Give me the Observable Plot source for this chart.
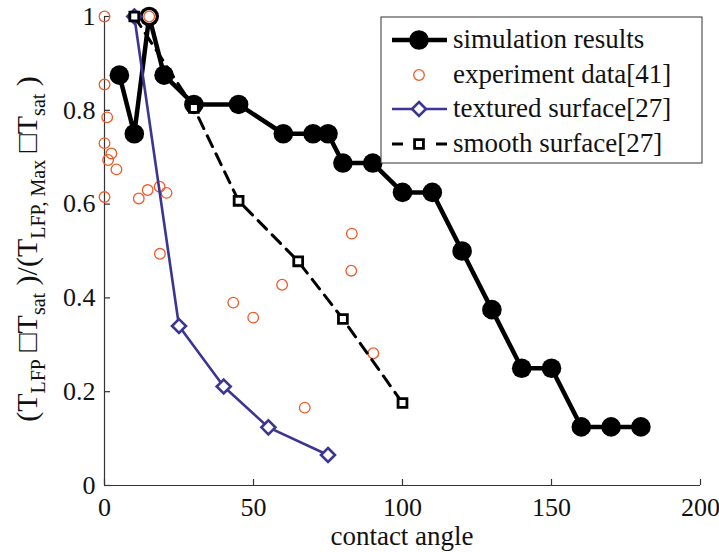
<!DOCTYPE html>
<html>
<head>
<meta charset="utf-8">
<script src="https://cdn.jsdelivr.net/npm/d3@7"></script>
<script src="https://cdn.jsdelivr.net/npm/@observablehq/plot@0.6"></script>
<style>
  html, body { margin: 0; padding: 0; background: white; }
  #chart svg { display: block; }
  #chart svg text { font-family: 'Liberation Serif', 'Times New Roman', serif !important; }
</style>
</head>
<body>
<div id="chart"></div>
<script>
// ---- data ----
const xTicks = [0, 50, 100, 150, 200];
const yTicks = [0, 0.2, 0.4, 0.6, 0.8, 1];

const simX = [5, 10, 15, 20, 30, 45, 60, 70, 75, 80, 90, 100, 110, 120, 130, 140, 150, 160, 170, 180];
const simY = [0.875, 0.75, 1, 0.875, 0.8125, 0.8125, 0.75, 0.75, 0.75, 0.6875, 0.6875, 0.625, 0.625, 0.5, 0.375, 0.25, 0.25, 0.125, 0.125, 0.125];

const expX = [0, 0, 0.9, 0, 2.3, 1.2, 4, 0, 11.5, 14.5, 18.5, 20.8, 18.6, 15, 83, 43.2, 49.9, 59.6, 82.8, 90.2, 67.2];
const expY = [1.0, 0.855, 0.785, 0.73, 0.708, 0.694, 0.674, 0.615, 0.612, 0.63, 0.637, 0.624, 0.494, 1.0, 0.537, 0.39, 0.358, 0.428, 0.458, 0.282, 0.166];

const texX = [10, 25, 40, 55, 75];
const texY = [1, 0.34, 0.211, 0.124, 0.065];

const smoX = [10, 30, 45, 65, 80, 100];
const smoY = [1, 0.805, 0.607, 0.478, 0.355, 0.176];

const seriesNames = ["simulation results", "experiment data[41]", "textured surface[27]", "smooth surface[27]"];
const xLabel = "contact angle";

// ---- tables ----
const sim = simX.map((x, i) => ({x, y: simY[i]}));
const exp = expX.map((x, i) => ({x, y: expY[i]}));
const tex = texX.map((x, i) => ({x, y: texY[i]}));
const smo = smoX.map((x, i) => ({x, y: smoY[i]}));

const W = 719, H = 552, mL = 104, mR = 19, mT = 16, mB = 67;
const frameW = W - mL - mR, frameH = H - mT - mB;
const FONT = "'Liberation Serif', 'Times New Roman', serif";
const ORANGE = "#f05a28";
const BLUE = "#3b3593";
const AX = "#333";

const svg = Plot.plot({
  width: W, height: H,
  marginLeft: mL, marginRight: mR, marginTop: mT, marginBottom: mB,
  style: {fontFamily: FONT, background: "white", color: "#111"},
  x: {domain: [0, 200]},
  y: {domain: [0, 1]},
  marks: [
    Plot.ruleY([0], {stroke: AX, strokeWidth: 1.2}),
    Plot.ruleX([0], {stroke: AX, strokeWidth: 1.2}),
    Plot.tickX(xTicks, {x: d => d, insetTop: frameH - 6, stroke: AX, strokeWidth: 1.2}),
    Plot.tickY(yTicks, {y: d => d, insetRight: frameW - 6, stroke: AX, strokeWidth: 1.2}),
    Plot.axisX(xTicks, {tickSize: 0, tickPadding: 12, fontSize: 26, fontFamily: FONT, label: null, tickFormat: d => String(d), fill: "#111"}),
    Plot.axisY(yTicks, {tickSize: 0, tickPadding: 9, fontSize: 26, fontFamily: FONT, label: null, tickFormat: d => String(d), fill: "#111"}),
    // simulation
    Plot.line(sim, {x: "x", y: "y", stroke: "black", strokeWidth: 4.5}),
    Plot.dot(sim, {x: "x", y: "y", r: 9.8, fill: "black", stroke: "none"}),
    // experiment
    Plot.dot(exp.filter(d => sim.some(s => s.x === d.x && s.y === d.y)), {x: "x", y: "y", r: 6.5, fill: "white", stroke: "none"}),
    Plot.dot(exp, {x: "x", y: "y", r: 5.3, fill: "none", stroke: ORANGE, strokeWidth: 1.3}),
    // textured
    Plot.line(tex, {x: "x", y: "y", stroke: BLUE, strokeWidth: 2.6}),
    Plot.dot(tex, {x: "x", y: "y", symbol: "diamond2", r: 6.3, fill: "white", stroke: BLUE, strokeWidth: 2.6}),
    // smooth
    Plot.line(smo, {x: "x", y: "y", stroke: "black", strokeWidth: 3, strokeDasharray: "12,8"}),
    Plot.dot(smo, {x: "x", y: "y", symbol: "square", r: 5, fill: "white", stroke: "black", strokeWidth: 2.8})
  ]
});

document.getElementById("chart").appendChild(svg);

const s = d3.select(svg);

// x label
s.append("text")
  .attr("x", mL + frameW / 2).attr("y", 545)
  .attr("text-anchor", "middle")
  .attr("font-family", FONT).attr("font-size", 27).attr("fill", "#111")
  .text(xLabel);

// y label with subscripts
const yl = s.append("text")
  .attr("transform", "translate(37,249) rotate(-90)")
  .attr("text-anchor", "middle")
  .attr("font-family", FONT).attr("font-size", 30).attr("fill", "#111");
const parts = [
  ["(T", 0], ["LFP", 1], [" \u25A1T", 0], ["sat", 1], [" )/(T", 0], ["LFP, Max", 1], [" \u25A1T", 0], ["sat", 1], [" )", 0]
];
let shifted = false;
parts.forEach(([t, sub]) => {
  const ts = yl.append("tspan").text(t);
  if (sub) {
    ts.attr("font-size", 20);
    if (!shifted) { ts.attr("dy", 8); shifted = true; }
  } else if (shifted) {
    ts.attr("dy", -8); shifted = false;
  }
});

// legend
const lg = s.append("g").attr("font-family", FONT).attr("font-size", 27).attr("fill", "#111").attr("text-anchor", "start");
lg.append("rect").attr("x", 381).attr("y", 17).attr("width", 321).attr("height", 146)
  .attr("fill", "white").attr("stroke", AX).attr("stroke-width", 1);
const rows = [40, 75, 109, 144];
const lx1 = 392, lx2 = 447, mx = 419, tx = 453;
// row 1
lg.append("line").attr("x1", lx1).attr("x2", lx2).attr("y1", rows[0]).attr("y2", rows[0]).attr("stroke", "black").attr("stroke-width", 4.5);
lg.append("circle").attr("cx", mx).attr("cy", rows[0]).attr("r", 9.8).attr("fill", "black");
// row 2
lg.append("circle").attr("cx", mx).attr("cy", rows[1]).attr("r", 5.3).attr("fill", "none").attr("stroke", ORANGE).attr("stroke-width", 1.3);
// row 3
lg.append("line").attr("x1", lx1).attr("x2", lx2).attr("y1", rows[2]).attr("y2", rows[2]).attr("stroke", BLUE).attr("stroke-width", 2.6);
lg.append("path").attr("d", d3.symbol(d3.symbolDiamond2, Math.PI * 6.3 * 6.3)()).attr("transform", `translate(${mx},${rows[2]})`)
  .attr("fill", "white").attr("stroke", BLUE).attr("stroke-width", 2.6);
// row 4
lg.append("path").attr("d", `M${lx1},${rows[3]}H${lx1 + 11}M${lx2 - 11},${rows[3]}H${lx2}`).attr("stroke", "black").attr("stroke-width", 3);
lg.append("path").attr("d", d3.symbol(d3.symbolSquare, Math.PI * 25)()).attr("transform", `translate(${mx},${rows[3]})`)
  .attr("fill", "white").attr("stroke", "black").attr("stroke-width", 2.8);
seriesNames.forEach((name, i) => {
  lg.append("text").attr("x", tx).attr("y", rows[i] + 8).attr("text-anchor", "start").text(name);
});
</script>
</body>
</html>
